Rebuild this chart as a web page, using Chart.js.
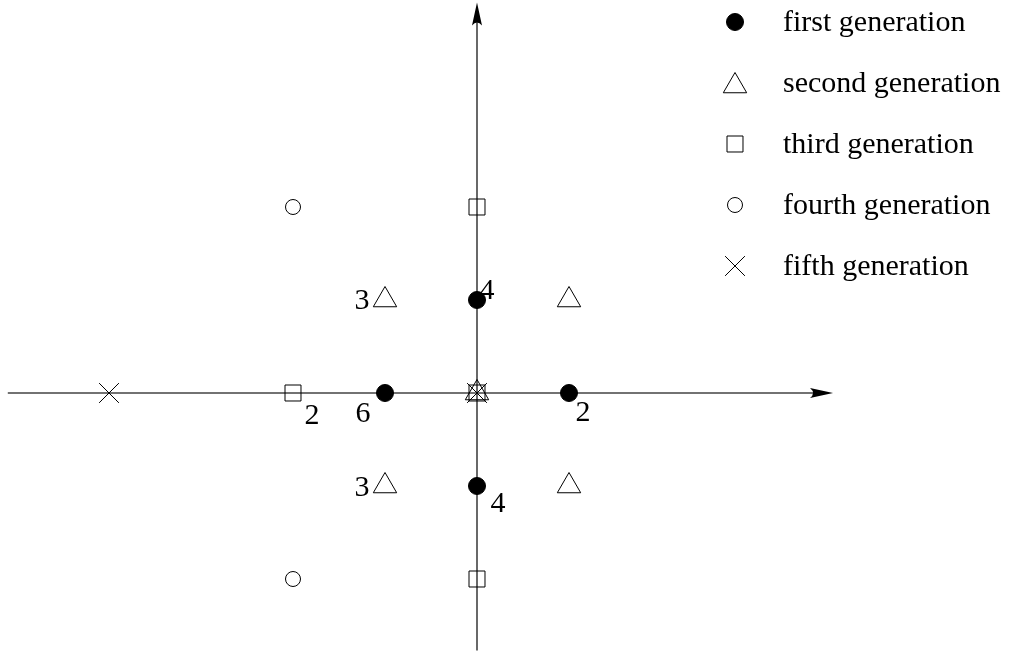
<!DOCTYPE html>
<html>
<head>
<meta charset="utf-8">
<script src="https://cdn.jsdelivr.net/npm/chart.js@4.4.1/dist/chart.umd.min.js"></script>
<style>
  html, body { margin: 0; padding: 0; background: #fff; }
  #wrap { width: 1015px; height: 655px; }
</style>
</head>
<body>
<div id="wrap"><canvas id="myChart"></canvas></div>
<script>
// lattice points per generation
const firstGen = [{x: -1, y: 0}, {x: 1, y: 0}, {x: 0, y: 1}, {x: 0, y: -1}];
const secondGen = [{x: -1, y: 1}, {x: 1, y: 1}, {x: -1, y: -1}, {x: 1, y: -1}, {x: 0, y: 0}];
const thirdGen = [{x: 0, y: 2}, {x: -2, y: 0}, {x: 0, y: -2}, {x: 0, y: 0}];
const fourthGen = [{x: -2, y: 2}, {x: -2, y: -2}];
const fifthGen = [{x: -4, y: 0}, {x: 0, y: 0}];
const seriesNames = ['first generation', 'second generation', 'third generation', 'fourth generation', 'fifth generation'];

// multiplicity written next to some points
const multX = [-1, 1, 0, 0, -1, -1, -2];
const multY = [0, 0, 1, -1, 1, -1, 0];
const multN = ['6', '2', '4', '4', '3', '3', '2'];

const FONT = '30px "Liberation Serif", serif';

// where each number sits relative to its point (px)
const multOffsets = [[-22, 21], [14, 20], [10, -9], [21, 18], [-23, 1], [-23, 2], [19, 23]];

const axesPlugin = {
  id: 'axes',
  beforeDatasetsDraw(chart) {
    const {ctx, scales: {x, y}} = chart;
    const x0 = x.getPixelForValue(0), y0 = y.getPixelForValue(0);
    const left = x.getPixelForValue(-5.1), right = x.getPixelForValue(3.87);
    const bottom = y.getPixelForValue(-2.77), top = y.getPixelForValue(4.2);
    ctx.save();
    ctx.strokeStyle = '#444';
    ctx.lineWidth = 1.6;
    ctx.beginPath();
    ctx.moveTo(left, y0); ctx.lineTo(right - 10, y0);
    ctx.moveTo(x0, bottom); ctx.lineTo(x0, top + 10);
    ctx.stroke();
    ctx.fillStyle = '#000';
    // right arrow
    ctx.beginPath();
    ctx.moveTo(right, y0);
    ctx.lineTo(right - 23, y0 - 5);
    ctx.quadraticCurveTo(right - 17, y0, right - 23, y0 + 5);
    ctx.closePath();
    ctx.fill();
    // up arrow
    ctx.beginPath();
    ctx.moveTo(x0, top);
    ctx.lineTo(x0 - 5, top + 23);
    ctx.quadraticCurveTo(x0, top + 17, x0 + 5, top + 23);
    ctx.closePath();
    ctx.fill();
    ctx.restore();
  },
  afterDatasetsDraw(chart) {
    const {ctx, scales: {x, y}} = chart;
    ctx.save();
    ctx.font = FONT;
    ctx.fillStyle = '#000';
    ctx.textAlign = 'center';
    ctx.textBaseline = 'middle';
    multN.forEach((n, i) => {
      const px = x.getPixelForValue(multX[i]) + multOffsets[i][0];
      const py = y.getPixelForValue(multY[i]) + multOffsets[i][1];
      ctx.fillText(n, px, py);
    });
    // legend
    ctx.textAlign = 'left';
    chart.data.datasets.forEach((ds, i) => {
      const ly = 21 + i * 61;
      const my = ds.pointStyle === 'triangle' ? ly + 4 : ly + 1;
      ctx.save();
      ctx.strokeStyle = '#000';
      ctx.fillStyle = ds.backgroundColor;
      ctx.lineWidth = 1;
      Chart.helpers.drawPoint(ctx, {pointStyle: ds.pointStyle, radius: ds.pointRadius, rotation: 0, borderWidth: 1}, 735, my);
      ctx.restore();
      ctx.fillText(ds.label, 783, ly + 2);
    });
    ctx.restore();
  }
};

const common = {borderColor: '#000', borderWidth: 1, pointHoverRadius: 0};

new Chart(document.getElementById('myChart'), {
  type: 'scatter',
  data: {
    datasets: [
      {...common, label: seriesNames[0], data: firstGen, pointStyle: 'circle', pointRadius: 8.5, backgroundColor: '#000'},
      {...common, label: seriesNames[1], data: secondGen, pointStyle: 'triangle', pointRadius: 13.5, backgroundColor: 'rgba(0,0,0,0)'},
      {...common, label: seriesNames[2], data: thirdGen, pointStyle: 'rect', pointRadius: 11.3, backgroundColor: 'rgba(0,0,0,0)'},
      {...common, label: seriesNames[3], data: fourthGen, pointStyle: 'circle', pointRadius: 7.5, backgroundColor: 'rgba(0,0,0,0)'},
      {...common, label: seriesNames[4], data: fifthGen, pointStyle: 'crossRot', pointRadius: 14, backgroundColor: 'rgba(0,0,0,0)'}
    ]
  },
  options: {
    responsive: true,
    maintainAspectRatio: false,
    animation: false,
    layout: {padding: 0, autoPadding: false},
    plugins: {legend: {display: false}, tooltip: {enabled: false}},
    scales: {
      x: {type: 'linear', min: -477 / 92, max: 538 / 92, display: false},
      y: {type: 'linear', min: -262 / 93, max: 393 / 93, display: false}
    }
  },
  plugins: [axesPlugin]
});
</script>
</body>
</html>
